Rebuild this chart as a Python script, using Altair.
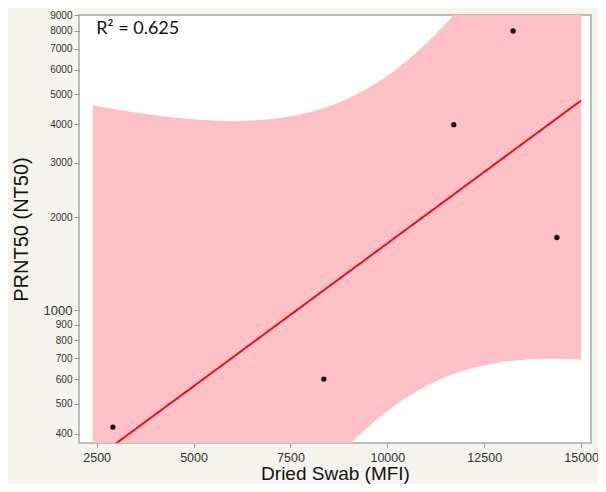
import altair as alt
import numpy as np
import pandas as pd

# Data
swab_mfi = [2920, 8360, 11715, 13245, 14375]
prnt50 = [420, 600, 3980, 7990, 1720]
x_ticks = [2500, 5000, 7500, 10000, 12500, 15000]
y_ticks = [400, 500, 600, 700, 800, 900, 1000, 2000, 3000, 4000, 5000, 6000, 7000, 8000, 9000]
r2_label = ["R² = 0.625"]
fit_range = [2400, 15000]
t_crit = 3.182446  # t(0.975, df=3)

# Log-linear regression with 95% confidence band of the mean
x = np.array(swab_mfi, float)
ly = np.log10(np.array(prnt50, float))
n = len(x)
mx = x.mean()
sxx = ((x - mx) ** 2).sum()
b = ((x - mx) * (ly - ly.mean())).sum() / sxx
a = ly.mean() - b * mx
s = np.sqrt(((ly - (a + b * x)) ** 2).sum() / (n - 2))
grid = np.linspace(fit_range[0], fit_range[1], 250)
fit = a + b * grid
hw = t_crit * s * np.sqrt(1 / n + (grid - mx) ** 2 / sxx)
fit_df = pd.DataFrame({"x": grid, "fit": 10 ** fit, "lo": 10 ** (fit - hw), "hi": 10 ** (fit + hw)})
pts_df = pd.DataFrame({"x": swab_mfi, "y": prnt50})
txt_df = pd.DataFrame({"x": [2490], "y": [8090], "t": r2_label})

xs = alt.Scale(domain=[2045, 15255], nice=False, zero=False)
ys = alt.Scale(type="log", domain=[373, 9000], nice=False)

x_axis = alt.Axis(values=x_ticks, format="d", title="Dried Swab (MFI)", titleFontSize=19,
                  titleFont="Liberation Sans", titleFontWeight="normal", titleColor="#111",
                  titleBaseline="top", titlePadding=1,
                  labelFontSize=12.5, labelFont="Liberation Sans", labelColor="#333",
                  tickSize=4, labelPadding=4, grid=False, domain=False,
                  tickColor="#999")
y_axis = alt.Axis(values=y_ticks, format="d", title="PRNT50 (NT50)", titleFontSize=20,
                  titleFont="Liberation Sans", titleFontWeight="normal", titleColor="#111",
                  labelFontSize=alt.expr("datum.value == 1000 ? 13 : 10"),
                  labelFont="Liberation Sans", labelColor="#333",
                  tickSize=5, labelPadding=2, titlePadding=12, grid=False, domain=False,
                  tickColor="#999")

band = alt.Chart(fit_df).mark_area(color="#fec1c7", opacity=1, clip=True).encode(
    x=alt.X("x:Q", scale=xs, axis=x_axis),
    y=alt.Y("lo:Q", scale=ys, axis=y_axis),
    y2="hi:Q",
)
line = alt.Chart(fit_df).mark_line(color="#e8141c", strokeWidth=2, clip=True).encode(
    x=alt.X("x:Q", scale=xs),
    y=alt.Y("fit:Q", scale=ys),
)
pts = alt.Chart(pts_df).mark_circle(color="#1a0808", size=28, opacity=1).encode(
    x=alt.X("x:Q", scale=xs),
    y=alt.Y("y:Q", scale=ys),
)
txt = alt.Chart(txt_df).mark_text(align="left", baseline="middle", fontSize=18,
                                  font="Lato", color="#111").encode(
    x=alt.X("x:Q", scale=xs),
    y=alt.Y("y:Q", scale=ys),
    text="t:N",
)

chart = (band + line + pts + txt).properties(
    width=512, height=428,
    autosize=alt.AutoSizeParams(type="none"),
    padding={"left": 71, "top": 7, "right": 7, "bottom": 41},
    background="#f5f4ef",
).configure_view(fill="white", stroke="#a9a9a9", strokeWidth=1.5)

chart.save("out.html", embed_options={"renderer": "svg", "actions": False})
